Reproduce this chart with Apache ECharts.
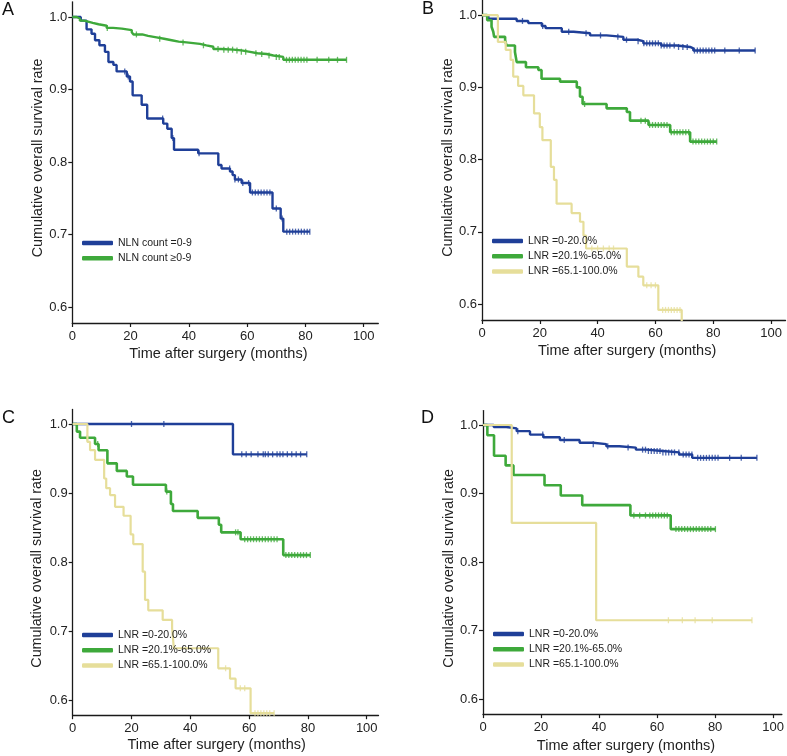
<!DOCTYPE html>
<html><head><meta charset="utf-8">
<script src="https://cdn.jsdelivr.net/npm/echarts@6/dist/echarts.min.js"></script>
<style>html,body{margin:0;padding:0;background:#fff}#c{width:787px;height:756px}</style>
</head><body><div id="c"></div>
<script>
// ---------- tick labels ----------
const xTicks = [0, 20, 40, 60, 80, 100];
const yTicks = [0.6, 0.7, 0.8, 0.9, 1.0];
const panelLabels = ['A', 'B', 'C', 'D'];
const xName = 'Time after surgery (months)';
const yName = 'Cumulative overall survival rate';

// ---------- Panel A ----------
const aNames = ['NLN count =0-9', 'NLN count ≥0-9'];
const aBlueT = [0, 2.9, 4.9, 6.6, 7.8, 9.3, 11.2, 12.4, 14.1, 15.2, 18.7, 19.8, 20.7, 23.8, 25.7, 31.2, 32.6, 34.1, 34.9, 43.2, 50.1, 51.2, 54.1, 55.0, 55.8, 58.1, 61.0, 68.7, 71.5, 72.4];
const aBlueS = [1.0, 0.995, 0.983, 0.977, 0.968, 0.961, 0.952, 0.938, 0.934, 0.925, 0.918, 0.911, 0.892, 0.879, 0.860, 0.853, 0.846, 0.833, 0.817, 0.812, 0.796, 0.791, 0.787, 0.782, 0.776, 0.771, 0.758, 0.736, 0.722, 0.704];
const aBlueEnd = 81.5;
const aBlueCens = [18.0, 19.2, 31.0, 34.5, 43.5, 54.0, 55.8, 57.0, 58.5, 60.5, 61.8, 62.8, 63.8, 64.8, 65.8, 66.8, 67.8, 70.0, 72.0, 73.6, 74.6, 75.6, 76.6, 77.6, 78.6, 79.6, 80.6, 81.5];
const aGreenT = [0, 1.5, 2.6, 4, 5.1, 7, 9, 11.8, 14, 17, 20.4, 21, 24, 26, 28.9, 31.5, 34.1, 36.5, 39.2, 43.8, 46, 48.4, 51, 55.2, 58, 61, 63.5, 66.7, 69, 72.4];
const aGreenS = [1.0, 0.998, 0.995, 0.994, 0.992, 0.990, 0.988, 0.985, 0.984, 0.982, 0.979, 0.976, 0.974, 0.972, 0.970, 0.968, 0.966, 0.965, 0.963, 0.961, 0.959, 0.956, 0.955, 0.954, 0.952, 0.950, 0.949, 0.947, 0.945, 0.941];
const aGreenEnd = 94.1;
const aGreenCens = [12, 22, 30, 38, 45, 50, 52, 53.5, 55, 56.5, 58, 59.5, 63, 65, 67.5, 70, 71, 73.5, 74.5, 75.5, 76.5, 77.5, 78.5, 79.5, 80.5, 84, 88, 91, 94.1];

// ---------- Panel B ----------
const lnrNames = ['LNR =0-20.0%', 'LNR =20.1%-65.0%', 'LNR =65.1-100.0%'];
const bBlueT = [0, 2.2, 12, 16, 20.7, 22, 27.6, 31.7, 37.4, 43.1, 48.9, 53.7, 55.8, 62, 67.4, 72, 73.1];
const bBlueS = [1.0, 0.995, 0.992, 0.989, 0.985, 0.982, 0.977, 0.975, 0.972, 0.970, 0.966, 0.964, 0.961, 0.958, 0.956, 0.954, 0.951];
const bBlueEnd = 94.5;
const bBlueCens = [14, 21, 30, 36, 41, 47, 50, 54, 56, 57, 58, 59, 60, 61, 62, 63, 64, 65, 66.5, 68, 69.5, 71, 73.5, 74.5, 75.5, 76.5, 77.5, 78.5, 79.5, 80.5, 84, 89, 94.5];
const bGreenT = [0, 1.8, 3.3, 3.9, 4.2, 8.0, 8.5, 11.4, 12.0, 15.2, 19.5, 20.6, 27.0, 32.8, 33.9, 34.8, 43.1, 50.1, 51.2, 57.6, 65.1, 72.0];
const bGreenS = [1.0, 0.993, 0.984, 0.977, 0.970, 0.965, 0.958, 0.949, 0.935, 0.928, 0.924, 0.912, 0.908, 0.900, 0.887, 0.877, 0.871, 0.866, 0.854, 0.848, 0.838, 0.825];
const bGreenEnd = 81.2;
const bGreenCens = [35.5, 55, 56.5, 58, 59, 60, 61, 62, 63, 64, 65.5, 66.5, 67.5, 68.5, 69.5, 70.5, 71.5, 73, 74, 75, 76, 77, 78, 79, 80, 81.2];
const bYellowT = [0, 5.5, 8.2, 9.9, 10.8, 12.5, 14.3, 18.0, 20.0, 20.9, 23.8, 24.9, 25.8, 31.0, 33.9, 35.1, 36.0, 50.1, 54.1, 55.8, 61.0, 69.1];
const bYellowS = [1.0, 0.963, 0.952, 0.938, 0.915, 0.902, 0.889, 0.864, 0.845, 0.827, 0.790, 0.772, 0.739, 0.726, 0.714, 0.695, 0.677, 0.652, 0.638, 0.626, 0.592, 0.55];
const bYellowEnd = 69.1;
const bYellowCens = [38, 40, 42, 44, 45.5, 57, 58.5, 60, 62.5, 63.5, 64.5, 65.5, 66.5, 67.5, 68.5];

// ---------- Panel C ----------
const cBlueT = [0, 54.5];
const cBlueS = [1.0, 0.956];
const cBlueEnd = 79.6;
const cBlueCens = [20, 31, 57.5, 59, 60.7, 63, 64.8, 65.5, 66.5, 68, 69.5, 70.5, 71.5, 73, 74.5, 76, 77.5, 79.6];
const cGreenT = [0, 1.4, 2.5, 7.6, 8.8, 11.8, 15.0, 18.4, 20.5, 31.7, 33.4, 34.1, 42.5, 49.7, 50.5, 57.1, 71.6];
const cGreenS = [1.0, 0.989, 0.980, 0.971, 0.962, 0.943, 0.932, 0.924, 0.912, 0.902, 0.884, 0.874, 0.864, 0.854, 0.843, 0.833, 0.810];
const cGreenEnd = 80.8;
const cGreenCens = [5, 8.5, 32, 55.4, 56.2, 58.5, 59.5, 60.5, 61.5, 62.5, 63.5, 64.5, 65.5, 66.5, 67.5, 68.5, 69.5, 72.5, 73.5, 74.5, 75.5, 76.5, 77.5, 78.5, 79.5, 80.8];
const cYellowT = [0, 5.0, 5.9, 7.6, 10.7, 11.4, 12.7, 14.4, 17.3, 19.7, 20.6, 23.8, 24.6, 25.7, 30.6, 33.8, 34.4, 49.5, 53.5, 55.4, 60.5];
const cYellowS = [1.0, 0.974, 0.962, 0.948, 0.921, 0.907, 0.897, 0.880, 0.867, 0.840, 0.826, 0.786, 0.745, 0.730, 0.716, 0.704, 0.675, 0.646, 0.631, 0.617, 0.581];
const cYellowEnd = 68.5;
const cYellowCens = [52, 57, 58.5, 62, 63, 64, 65, 66, 67, 68.5];

// ---------- Panel D ----------
const dBlueT = [0, 3.7, 8, 11.6, 16.2, 20.8, 26.5, 33.3, 37.9, 42.5, 47.0, 52.7, 56.2, 61.9, 67.6, 72.1];
const dBlueS = [1.0, 0.997, 0.995, 0.991, 0.986, 0.982, 0.978, 0.974, 0.972, 0.969, 0.967, 0.964, 0.962, 0.960, 0.957, 0.952];
const dBlueEnd = 94.4;
const dBlueCens = [12, 20.6, 28, 38, 43, 50, 55, 56, 57, 58, 59, 60, 61, 62, 63, 64, 65, 66, 67.5, 69, 70, 71, 72, 74, 75, 76, 77, 78, 79, 80, 81, 85, 89, 94.4];
const dGreenT = [0, 1.5, 3.8, 7.8, 10.5, 21.2, 26.8, 34.2, 50.8, 64.7];
const dGreenS = [1.0, 0.985, 0.955, 0.941, 0.927, 0.912, 0.897, 0.883, 0.868, 0.848];
const dGreenEnd = 80.1;
const dGreenCens = [52, 54, 56, 57.5, 58.5, 59.5, 60.5, 61.5, 62.5, 63.5, 66.5, 67.5, 68.5, 69.5, 70.5, 71.5, 72.5, 73.5, 74.5, 75.5, 76.5, 77.5, 78.5, 80.1];
const dYellowT = [0, 9.9, 39.0];
const dYellowS = [1.0, 0.857, 0.715];
const dYellowEnd = 92.7;
const dYellowCens = [63.9, 68.7, 73.1, 79.0, 92.7];

// ---------- styling ----------
const BLUE = '#1f3f98', GREEN = '#3ea93b', YELLOW = '#e6de9a';
const FONT = '"Liberation Sans", Arial, Helvetica, sans-serif';
const INK = '#1a1a1a';

function stepData(T, S, end) {
  const d = T.map((t, i) => [t, S[i]]);
  d.push([end, S[S.length - 1]]);
  return d;
}
function survAt(T, S, t) {
  let v = S[0];
  for (let i = 0; i < T.length; i++) { if (T[i] <= t) v = S[i]; }
  return v;
}
function curve(name, gi, T, S, end, cens, color, width) {
  return [
    { type: 'line', name: name, xAxisIndex: gi, yAxisIndex: gi, step: 'end', data: stepData(T, S, end),
      symbol: 'none', color: color, lineStyle: { color: color, width: width }, itemStyle: { color: color },
      silent: true, emphasis: { disabled: true }, animation: false },
    { type: 'scatter', name: name + ' censored', xAxisIndex: gi, yAxisIndex: gi,
      data: cens.map(t => [t, survAt(T, S, t)]), symbol: 'rect', symbolSize: [1.3, 6],
      itemStyle: { color: color }, silent: true, emphasis: { disabled: true }, animation: false }
  ];
}

// grid geometry (px) per panel
const grids = [
  { left: 72.3, top: 1.8, width: 306, height: 321.2 },
  { left: 482, top: 0, width: 303.5, height: 320 },
  { left: 72.7, top: 409.5, width: 305.8, height: 305.7 },
  { left: 483, top: 410.6, width: 300.8, height: 303.5 }
];
const xMax = [105, 105, 104, 103];
const xNameShift = [7, 6.7, 9, 6.4];
const xNameGap = [23.5, 23.5, 22, 24];
const yNameGap = [24.5, 26, 29, 25.5];
const yNamePad = [[0, 0, 0, 9], [0, 0, 0, 5], [0, 12, 0, 0], [0, 12, 0, 0]];

const xAxes = grids.map((g, i) => ({
  type: 'value', gridIndex: i, min: 0, max: xMax[i],
  axisLine: { show: true, onZero: false, lineStyle: { color: INK, width: 1.3 } },
  axisTick: { show: true, length: 4, customValues: xTicks, lineStyle: { color: INK, width: 1.2 } },
  axisLabel: { customValues: xTicks, fontSize: 13, color: '#222', margin: 7, fontFamily: FONT },
  splitLine: { show: false },
  name: xName, nameLocation: 'middle', nameGap: xNameGap[i],
  nameTextStyle: { fontSize: 14.5, color: '#222', fontFamily: FONT, padding: [0, 2 * xNameShift[i], 0, 0] }
}));
const yAxes = grids.map((g, i) => ({
  type: 'value', gridIndex: i, min: 0.578, max: 1.021,
  axisLine: { show: true, onZero: false, lineStyle: { color: INK, width: 1.3 } },
  axisTick: { show: true, length: 4, customValues: yTicks, lineStyle: { color: INK, width: 1.2 } },
  axisLabel: { customValues: yTicks, fontSize: 13, color: '#222', margin: 5, fontFamily: FONT,
    formatter: v => Number(v).toFixed(1) },
  splitLine: { show: false },
  name: yName, nameLocation: 'middle', nameGap: yNameGap[i],
  nameTextStyle: { fontSize: 14.3, color: '#222', fontFamily: FONT, padding: yNamePad[i] }
}));

function legend(names, left, top) {
  return { data: names, left: left, top: top, orient: 'vertical', icon: 'roundRect',
    itemWidth: 31, itemHeight: 4.5, itemGap: 3.3, padding: 0, selectedMode: false,
    textStyle: { fontSize: 10.5, color: '#222', fontFamily: FONT, lineHeight: 12 } };
}

const labelPos = [[2, 1], [422, 0], [2, 409], [421, 409]];
const titles = panelLabels.map((t, i) => ({ text: t, left: labelPos[i][0], top: labelPos[i][1], padding: 0,
  textStyle: { fontSize: 18, fontWeight: 'normal', color: '#111', fontFamily: FONT } }));

const series = [].concat(
  curve(aNames[0], 0, aBlueT, aBlueS, aBlueEnd, aBlueCens, BLUE, 2.4),
  curve(aNames[1], 0, aGreenT, aGreenS, aGreenEnd, aGreenCens, GREEN, 2.4),
  curve(lnrNames[0], 1, bBlueT, bBlueS, bBlueEnd, bBlueCens, BLUE, 2.4),
  curve(lnrNames[1], 1, bGreenT, bGreenS, bGreenEnd, bGreenCens, GREEN, 2.6),
  curve(lnrNames[2], 1, bYellowT, bYellowS, bYellowEnd, bYellowCens, YELLOW, 2.2),
  curve(lnrNames[0], 2, cBlueT, cBlueS, cBlueEnd, cBlueCens, BLUE, 2.4),
  curve(lnrNames[1], 2, cGreenT, cGreenS, cGreenEnd, cGreenCens, GREEN, 2.6),
  curve(lnrNames[2], 2, cYellowT, cYellowS, cYellowEnd, cYellowCens, YELLOW, 2.2),
  curve(lnrNames[0], 3, dBlueT, dBlueS, dBlueEnd, dBlueCens, BLUE, 2.4),
  curve(lnrNames[1], 3, dGreenT, dGreenS, dGreenEnd, dGreenCens, GREEN, 2.6),
  curve(lnrNames[2], 3, dYellowT, dYellowS, dYellowEnd, dYellowCens, YELLOW, 2.2)
);

const chart = echarts.init(document.getElementById('c'), null, { renderer: 'canvas' });
chart.setOption({
  animation: false,
  backgroundColor: '#ffffff',
  title: titles,
  grid: grids.map(g => Object.assign({ containLabel: false }, g)),
  xAxis: xAxes,
  yAxis: yAxes,
  legend: [legend(aNames, 82, 237), legend(lnrNames, 492, 235), legend(lnrNames, 82, 629), legend(lnrNames, 493, 628)],
  series: series
});
</script>
</body></html>
